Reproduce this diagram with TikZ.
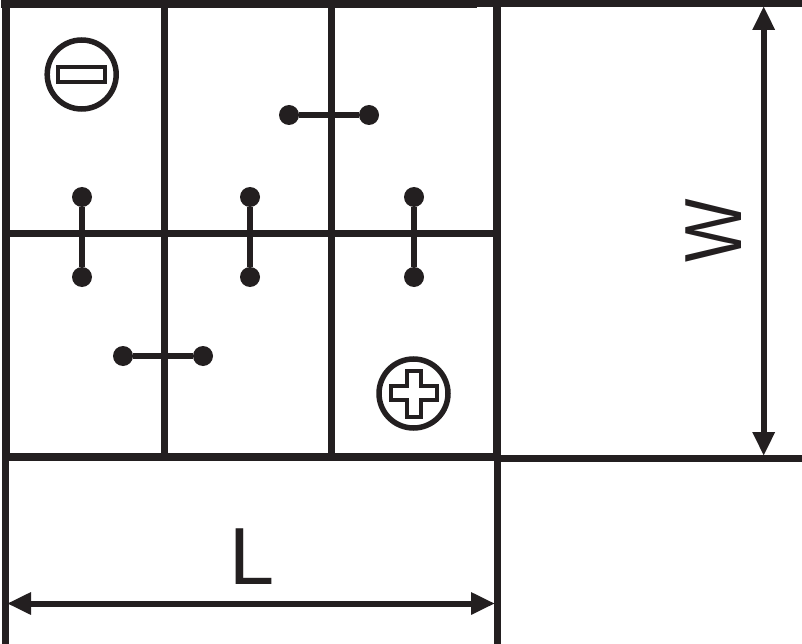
\documentclass[tikz,border=0pt]{standalone}
\usepackage{fontspec}
\setmainfont{Liberation Sans}
\usetikzlibrary{arrows.meta}
\definecolor{ink}{HTML}{231F20}
\tikzset{
  wall/.style={draw=ink,line width=8pt},
  inner wall/.style={draw=ink,line width=7pt},
  post/.style={circle,fill=ink,draw=none,minimum size=20pt,inner sep=0pt},
  link/.style={draw=ink,line width=6.5pt},
  dim/.style={draw=ink,line width=6pt,{Triangle[length=24pt,width=21pt,color=ink]}-{Triangle[length=24pt,width=21pt,color=ink]}},
  terminal/.style={circle,draw=ink,line width=5.5pt,minimum size=69pt,inner sep=0pt},
  slot/.style={rectangle,draw=ink,line width=4pt,minimum width=46.5pt,minimum height=14.5pt,inner sep=0pt},
  dimlabel/.style={text=ink,font=\fontsize{81}{81}\selectfont,inner sep=0pt}
}
\begin{document}
\begin{tikzpicture}[x=1pt,y=-1pt]
\useasboundingbox (0,0) rectangle (802,644);
\fill[white] (0,0) rectangle (802,644);
% outer frame and extension lines
\draw[wall] (1,4.5) -- (477,4.5);
\draw[draw=ink,line width=7pt] (477,3.2) -- (802,3.2);
\draw[wall] (5.5,1) -- (5.5,457);
\draw[draw=ink,line width=7pt] (5,430) -- (5,644);
\draw[wall] (496.5,1) -- (496.5,457);
\draw[draw=ink,line width=7pt] (497.5,430) -- (497.5,644);
\draw[wall] (2,457) -- (497,457);
\draw[draw=ink,line width=7pt] (497,458.5) -- (802,458.5);
% partitions
\draw[inner wall] (164,4) -- (164,457);
\draw[inner wall] (331,4) -- (331,457);
\draw[draw=ink,line width=6.5pt] (5,233.5) -- (496,233.5);
% links
\node[post] (a1) at (82,197) {};
\node[post] (a2) at (82,277) {};
\node[post] (b1) at (250,197) {};
\node[post] (b2) at (250,277) {};
\node[post] (c1) at (414,197) {};
\node[post] (c2) at (414,277) {};
\node[post] (d1) at (289,115) {};
\node[post] (d2) at (369,115) {};
\node[post] (e1) at (123,356) {};
\node[post] (e2) at (203,356) {};
\draw[link] (a1) -- (a2);
\draw[link] (b1) -- (b2);
\draw[link] (c1) -- (c2);
\draw[link] (d1) -- (d2);
\draw[link] (e1) -- (e2);
% terminals
\node[terminal] (minus) at (81.7,74.5) {};
\node[slot] (minusslot) at (81.7,74.3) {};
\node[terminal] (plus) at (413.5,393.5) {};
\draw[draw=ink,line width=4pt,line join=miter] (406.8,370.8) -- (421,370.8) -- (421,385.8) -- (437.2,385.8) -- (437.2,400.2) -- (421,400.2) -- (421,417.2) -- (406.8,417.2) -- (406.8,400.2) -- (390.8,400.2) -- (390.8,385.8) -- (406.8,385.8) -- cycle;
% dimensions
\coordinate (wtop) at (763.7,6);
\coordinate (wbot) at (763.7,456);
\coordinate (lleft) at (7,603.5);
\coordinate (lright) at (495,603.5);
\draw[dim] (wtop) -- (wbot);
\draw[dim] (lleft) -- (lright);
\node[dimlabel,anchor=base,rotate=90,xscale=0.83] (W) at (741,231) {W};
\node[dimlabel,anchor=base] (L) at (252,584) {L};
\end{tikzpicture}
\end{document}
